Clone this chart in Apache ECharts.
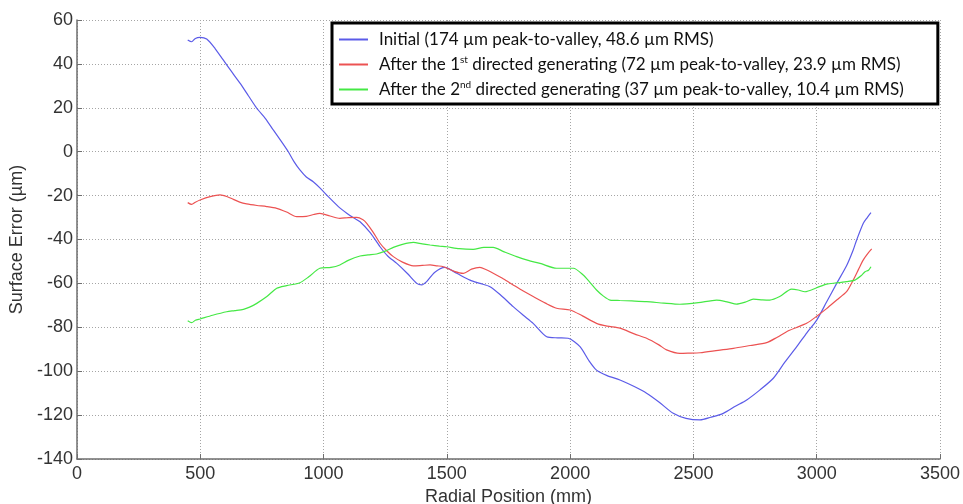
<!DOCTYPE html>
<html>
<head>
<meta charset="utf-8">
<script src="https://cdn.jsdelivr.net/npm/echarts@6/dist/echarts.min.js"></script>
<style>
  html, body { margin: 0; padding: 0; background: #fff; }
  #chart { width: 963px; height: 504px; }
</style>
</head>
<body>
<div id="chart"></div>
<script>
// 数据
//-----

// Initial surface (blue)
var posInitial = [449, 465, 480, 499, 526, 560, 593, 630, 661, 695, 729, 765, 796, 830, 857, 880, 904, 930, 958, 985,
  1019, 1060, 1094, 1120, 1148, 1190, 1229, 1260, 1297, 1340, 1378, 1398, 1418, 1450, 1492, 1540, 1594, 1634, 1675, 1720,
  1769, 1810, 1850, 1905, 1950, 1992, 2040, 2075, 2107, 2150, 2202, 2260, 2310, 2360, 2418, 2470, 2527, 2570, 2621, 2670,
  2716, 2770, 2824, 2870, 2919, 2960, 3000, 3040, 3081, 3121, 3148, 3162, 3189, 3205, 3220];
var errInitial = [50.9, 50.1, 51.6, 52.1, 51.3, 47, 41.8, 36, 31.2, 25.5, 19.8, 15, 9.9, 4.5, 0, -4.5, -8.3, -11.5, -13.7, -16.5,
  -20.5, -25, -28, -30, -31.9, -37, -43.3, -47.5, -50.9, -55.5, -60, -60.7, -59.2, -55, -52.7, -55.4, -58.5, -60, -61.5, -65.5,
  -70.6, -74.5, -78.2, -84.3, -84.8, -85, -88.8, -95, -99.5, -102, -104, -107, -110, -114, -119.2, -121.5, -122.2, -121, -119.2, -116,
  -113.1, -108.5, -103.2, -96, -88.8, -82.5, -76.7, -68.5, -60, -52, -44.8, -40.2, -32.6, -30, -27.8];

// After the 1st directed generating (red)
var posFirst = [449, 465, 480, 499, 540, 580, 610, 634, 660, 688, 730, 769, 810, 850, 891, 930, 960, 985, 1026, 1066,
  1100, 1134, 1160, 1175, 1200, 1229, 1255, 1283, 1320, 1364, 1400, 1432, 1460, 1486, 1530, 1567, 1600, 1634, 1660, 1688,
  1730, 1769, 1810, 1850, 1900, 1945, 2000, 2050, 2107, 2150, 2202, 2260, 2310, 2360, 2391, 2445, 2480, 2527, 2600, 2662,
  2730, 2797, 2840, 2878, 2920, 2959, 3000, 3040, 3081, 3121, 3148, 3170, 3189, 3210, 3223];
var errFirst = [-23.2, -24, -23, -22, -20.5, -19.7, -20.5, -21.7, -23, -23.8, -24.5, -25, -25.8, -27.5, -29.6, -29.5, -28.6, -28.1, -29.3, -30.4,
  -30, -29.9, -31, -32.6, -36.5, -41.7, -45, -47.8, -50.3, -52, -51.8, -51.6, -52, -52.4, -54.5, -55.4, -53.5, -52.7, -53.8, -55.4,
  -58, -60.7, -63.5, -66, -69, -71.3, -72.1, -74.8, -78.2, -79.5, -80.4, -83, -85, -88, -90.3, -91.9, -91.8, -91.6, -90.5, -89.6,
  -88.3, -87, -84.5, -82, -80, -78.2, -75, -71.5, -67.6, -63.8, -58.5, -53.5, -49.3, -46, -44.3];

// After the 2nd directed generating (green)
var posSecond = [449, 465, 480, 499, 550, 607, 640, 675, 700, 729, 770, 810, 850, 904, 940, 985, 1030, 1066, 1100, 1148,
  1180, 1215, 1250, 1283, 1320, 1364, 1400, 1432, 1470, 1499, 1550, 1607, 1650, 1688, 1730, 1783, 1830, 1878, 1945, 2013,
  2053, 2080, 2107, 2135, 2162, 2202, 2250, 2310, 2380, 2445, 2520, 2594, 2640, 2675, 2710, 2743, 2780, 2810, 2850, 2898,
  2925, 2952, 3000, 3040, 3080, 3121, 3155, 3180, 3196, 3210, 3220];
var errSecond = [-77, -77.9, -76.8, -76.2, -74.5, -72.9, -72.4, -71.8, -70.8, -69.1, -66, -62.2, -61, -59.7, -57, -53.1, -52.7, -51.6, -49.5, -47.5,
  -47, -46.6, -45.3, -43.6, -42.2, -41.3, -42, -42.5, -43, -43.3, -44.2, -44.5, -43.6, -43.6, -45.5, -47.8, -49.5, -50.9, -53.1, -53.1,
  -56.2, -59.5, -63, -65.8, -67.6, -67.8, -68, -68.3, -69, -69.5, -68.8, -67.6, -68.5, -69.4, -68.5, -67.2, -67.5, -67.6, -66, -62.6,
  -63, -63.8, -62, -60.3, -59.8, -59.2, -58.5, -56.5, -54.7, -54, -52.4];

var seriesNames = [
  'Initial (174 µm peak-to-valley, 48.6 µm RMS)',
  'After the 1st directed generating (72 µm peak-to-valley, 23.9 µm RMS)',
  'After the 2nd directed generating (37 µm peak-to-valley, 10.4 µm RMS)'
];
var xTicks = [0, 500, 1000, 1500, 2000, 2500, 3000, 3500];
var yTicks = [-140, -120, -100, -80, -60, -40, -20, 0, 20, 40, 60];

// 组合成 [x, y]
var pairs = function(xs, ys) {
  return xs.map(function(x, i) { return [x, ys[i]]; });
};

// 画图
//-----
var myChart = echarts.init(document.getElementById('chart'));
var axisFont = 'Liberation Sans, Arial, sans-serif';
var legendFont = 'Lato, Open Sans, sans-serif';

var lineSeries = function(name, data, color) {
  return {
    name: name,
    type: 'line',
    data: data,
    showSymbol: false,
    symbol: 'none',
    smooth: 0.25,
    animation: false,
    lineStyle: { color: color, width: 1.2 },
    itemStyle: { color: color }
  };
};

var option = {
  animation: false,
  grid: { left: 77, right: 23, top: 20, bottom: 45, outerBoundsMode: 'none', containLabel: false },
  legend: {
    orient: 'vertical',
    left: 332,
    top: 23,
    itemWidth: 29,
    itemHeight: 2,
    itemGap: 6.5,
    icon: 'rect',
    padding: [8, 34, 6, 7],
    backgroundColor: '#fff',
    borderColor: '#000',
    borderWidth: 3,
    data: seriesNames,
    formatter: function(name) {
      if (name.indexOf('1st') >= 0) {
        return '{t|After the 1}{s|st}{t| directed generating (72 µm peak-to-valley, 23.9 µm RMS)}';
      }
      if (name.indexOf('2nd') >= 0) {
        return '{t|After the 2}{s|nd}{t| directed generating (37 µm peak-to-valley, 10.4 µm RMS)}';
      }
      return '{t|' + name + '}';
    },
    textStyle: {
      color: '#111',
      fontFamily: legendFont,
      fontSize: 17,
      padding: [0, 0, 0, 6],
      rich: {
        t: { fontFamily: legendFont, fontSize: 17, color: '#111', lineHeight: 20 },
        s: { fontFamily: legendFont, fontSize: 10, color: '#111', verticalAlign: 'top', lineHeight: 20, padding: [0, 0, 8, 0] }
      }
    }
  },
  xAxis: {
    type: 'value',
    min: 0,
    max: 3500,
    interval: 500,
    name: 'Radial Position (mm)',
    nameLocation: 'middle',
    nameGap: 28,
    nameTextStyle: { fontFamily: axisFont, fontSize: 18, color: '#333' },
    axisLine: { onZero: false, lineStyle: { color: '#6e6e6e', width: 1.5 } },
    axisTick: { inside: true, length: 5, lineStyle: { color: '#6e6e6e' } },
    axisLabel: {
      fontFamily: axisFont, fontSize: 18, color: '#333', margin: 6,
      formatter: function(v) { return xTicks.indexOf(v) >= 0 ? String(v) : ''; }
    },
    splitLine: { show: true, lineStyle: { color: '#a5a5a5', type: [1, 2], width: 1 } }
  },
  yAxis: {
    type: 'value',
    min: -140,
    max: 60,
    interval: 20,
    name: 'Surface Error (µm)',
    nameLocation: 'middle',
    nameGap: 48,
    nameTextStyle: { fontFamily: axisFont, fontSize: 18, color: '#333' },
    axisLine: { show: true, onZero: false, lineStyle: { color: '#6e6e6e', width: 1.5 } },
    axisTick: { show: true, inside: true, length: 5, lineStyle: { color: '#6e6e6e' } },
    axisLabel: {
      fontFamily: axisFont, fontSize: 18, color: '#333', margin: 4,
      formatter: function(v) { return yTicks.indexOf(v) >= 0 ? String(v) : ''; }
    },
    splitLine: { show: true, lineStyle: { color: '#a5a5a5', type: [1, 2], width: 1 } }
  },
  series: [
    lineSeries(seriesNames[0], pairs(posInitial, errInitial), '#5b5be8'),
    lineSeries(seriesNames[1], pairs(posFirst, errFirst), '#ec5252'),
    lineSeries(seriesNames[2], pairs(posSecond, errSecond), '#45e845')
  ]
};

myChart.setOption(option);
</script>
</body>
</html>
